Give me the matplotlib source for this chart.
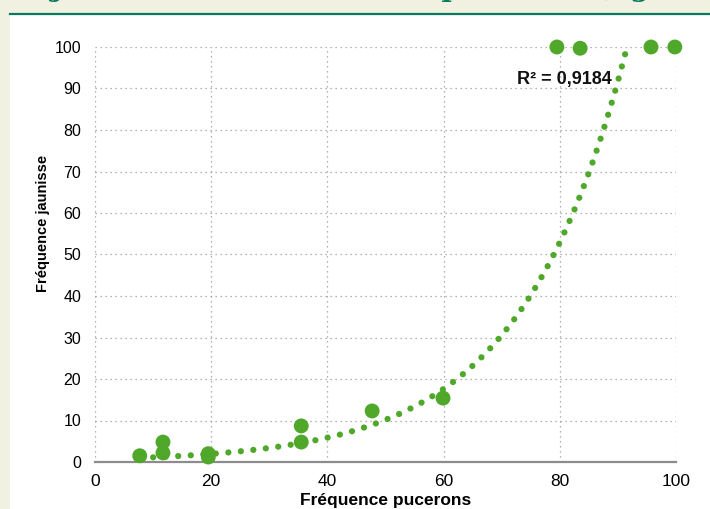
import numpy as np
import matplotlib
matplotlib.use("Agg")
import matplotlib.pyplot as plt
from matplotlib.patches import Rectangle
from matplotlib.lines import Line2D

# ---- data ----
puceron_freq = [7.7, 11.7, 11.7, 19.5, 19.5, 35.5, 35.5, 47.7, 59.9, 79.5, 83.5, 95.7, 99.8]
jaunisse_freq = [1.5, 4.8, 2.2, 2.0, 1.2, 8.7, 4.8, 12.3, 15.4, 100.0, 99.7, 100.0, 100.0]

# exponential trendline y = a * exp(b x)
trend_a = 0.65
trend_b = 0.055
trend_x_start = 10.0
trend_x_end = 91.6
r2_label = "R² = 0,9184"

x_ticks = [0, 20, 40, 60, 80, 100]
y_ticks = [0, 10, 20, 30, 40, 50, 60, 70, 80, 90, 100]
x_label = "Fréquence pucerons"
y_label = "Fréquence jaunisse"
title_text = "Jaunisse en fonction des pucerons (figure 2)"

GREEN = "#4fa82a"
BEIGE = "#f0f1e1"
DARKGREEN = "#0a7a5c"

W, H = 710, 509
fig = plt.figure(figsize=(W / 100, H / 100), dpi=100, facecolor=BEIGE)

# white panel and top green rule
fig.patches.append(Rectangle((10 / W, 0), 1, (H - 15) / H, transform=fig.transFigure,
                             facecolor="white", edgecolor="none", zorder=0))
fig.lines.append(Line2D([10 / W, 1], [(H - 14) / H, (H - 14) / H], transform=fig.transFigure,
                        color=DARKGREEN, linewidth=1.6, zorder=1))
# title, cropped by the top edge as in the reference
fig.text(0.56, 1 + 4.5 / H, title_text, ha="center", va="baseline", color=DARKGREEN,
         fontsize=20, fontweight="bold", family="DejaVu Serif", zorder=1)

ax = fig.add_axes([95 / W, 47 / H, 581 / W, 415 / H])
ax.set_zorder(3)
ax.set_facecolor("none")
ax.set_xlim(0, 100)
ax.set_ylim(0, 100)

for s in ["left", "right", "top"]:
    ax.spines[s].set_visible(False)
ax.spines["bottom"].set_color("#8c8c8c")
ax.spines["bottom"].set_linewidth(1.6)

ax.set_xticks(x_ticks)
ax.set_yticks(y_ticks)
ax.tick_params(length=0)
ax.tick_params(axis="y", pad=10)
ax.tick_params(axis="x", pad=9)
for lab in ax.get_yticklabels():
    lab.set_fontfamily("Liberation Sans")
    lab.set_fontsize(11.5)
for lab in ax.get_xticklabels():
    lab.set_fontfamily(["Liberation Sans Narrow", "Liberation Sans"])
    lab.set_fontsize(12.5)

ax.grid(True, linestyle=(0, (1, 3)), color="#9a9a9a", linewidth=0.9)
ax.set_axisbelow(True)

# trendline
tx = np.linspace(trend_x_start, trend_x_end, 400)
ty = trend_a * np.exp(trend_b * tx)
ax.plot(tx, ty, color=GREEN, linewidth=4.5, dashes=(0.01, 2.0),
        dash_capstyle="round", zorder=3, clip_on=False)

ax.scatter(puceron_freq, jaunisse_freq, s=115, color=GREEN, zorder=4,
           clip_on=False, edgecolors="none")

ax.text(89.0, 92.2, r2_label, ha="right", va="center", fontsize=13,
        fontweight="bold", family="Liberation Sans", color="#111111")

ax.set_xlabel(x_label, fontsize=12.5, fontweight="bold",
              family=["Liberation Sans Narrow", "Liberation Sans"])
ax.set_ylabel(y_label, fontsize=10.5, fontweight="bold",
              family=["Liberation Sans Narrow", "Liberation Sans"])
ax.xaxis.set_label_coords(0.5, -0.075)
ax.yaxis.set_label_coords(-0.077, 0.576)

fig.savefig("out.png", dpi=100, facecolor=BEIGE)
